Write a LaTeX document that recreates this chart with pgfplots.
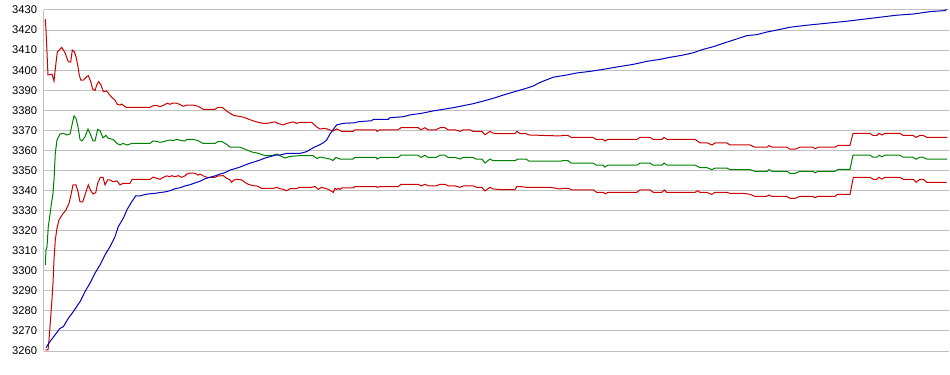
\documentclass[border=0pt]{standalone}
\usepackage{fontspec}
\setmainfont{Liberation Sans}
\usepackage{pgfplots}
\pgfplotsset{compat=1.18}
\definecolor{cred}{RGB}{204,0,0}
\definecolor{cgreen}{RGB}{0,128,0}
\definecolor{cblue}{RGB}{0,0,192}
\definecolor{cgrid}{RGB}{192,192,192}
\begin{document}
\begin{tikzpicture}
\useasboundingbox (-33pt,-18pt) rectangle (679.5pt,263.25pt);
\begin{axis}[scale only axis, width=678.75pt, height=255.75pt,
  xmin=44, xmax=949, ymin=3260, ymax=3430,
  axis x line=none, axis y line*=left,
  y axis line style={cgrid, line width=0.75pt},
  ytick={3260,3270,...,3430}, major tick length=0pt,
  ymajorgrids, grid style={cgrid, line width=0.75pt},
  yticklabel style={font=\fontsize{8.4}{10}\selectfont, /pgf/number format/1000 sep={}, /pgf/number format/assume math mode=true, anchor=east, inner sep=0pt, xshift=-5pt},
  clip=false,
  every axis plot/.style={line width=0.75pt, mark=none}]
% upper red
\addplot[cred] coordinates {
(45.3,3425.5)(46,3420)(48,3397.6)(52,3398)(54,3394.6)(56,3403.6)(57.3,3409)(61.7,3411.4)(65,3408.7)(68.3,3404.2)(70.7,3404)(72.3,3410)(74.3,3409.2)(76,3406.7)(77.7,3402.6)(79.3,3397.6)(80.7,3395.1)(83.3,3395)(86.7,3396.8)(88.3,3397.3)(90.7,3394.3)(92.7,3390.6)(95,3389.8)(96.7,3392.6)(98.7,3394.3)(101,3392.6)(103.3,3389.3)(106.7,3389.6)(108.3,3388.5)(111.7,3386.5)(115,3385.1)(117.3,3383)(120,3382.6)(121.7,3383.1)(126,3381.5)(150,3381.5)(153.3,3382.3)(157.3,3382.3)(160,3381.8)(164,3382.6)(167,3383.5)(170,3383)(173,3383.6)(177,3383.5)(181,3382.6)(183.3,3382)(187,3382.6)(193,3382.6)(198,3382)(203.3,3380.5)(215,3380.5)(218,3381.5)(222,3381.5)(226.7,3379.6)(233.3,3377.5)(243.3,3376.6)(250,3375.3)(256.7,3374.2)(263,3373.5)(267,3373.5)(275,3374.2)(278,3373.5)(283,3372.7)(287,3373.5)(293,3374.2)(296.7,3373.5)(300,3374)(311.7,3374)(316.7,3371.7)(320,3370.7)(325,3371)(330,3370.2)(333,3369.7)(336.7,3370.7)(341.7,3369.5)(353.3,3369.5)(355,3370.3)(376,3370.3)(377,3369.5)(380,3370.3)(398,3370.3)(401,3371.3)(418.3,3371.3)(421,3370.3)(425,3371.3)(428,3370.3)(436,3370.3)(440,3371.3)(445,3371.3)(448,3370.3)(455,3370.3)(460,3369.5)(463,3370.3)(470,3370.3)(473,3369.5)(482,3369.5)(485,3367.8)(490,3369.5)(493,3368.6)(498,3368.4)(515,3368.4)(517,3369.5)(520,3368.4)(526,3368.4)(529,3367.7)(560,3367.2)(563,3367.5)(568,3367.5)(571,3366.5)(593,3366.5)(596,3365.5)(603,3365.5)(605,3364.7)(608,3365.5)(637,3365.5)(640,3366.5)(650,3366.5)(653,3365.5)(662,3365.5)(664,3366.5)(667,3365.5)(695,3365.5)(700,3363.8)(707,3363.8)(712,3362.7)(715,3363.7)(727,3363.7)(730,3362.7)(750,3362.7)(755,3361.6)(767,3361.6)(769,3362.4)(772,3361.6)(787,3361.6)(790,3360.6)(795,3360.6)(800,3361.6)(813,3361.6)(815,3360.8)(818,3361.6)(835,3361.6)(838,3362.5)(850,3362.5)(853,3368.5)(870,3368.5)(873,3367.5)(877,3367.5)(879,3368.5)(882,3367.7)(885,3368.5)(900,3368.5)(903,3367.5)(913,3367.5)(916,3366.5)(920,3367.5)(923,3367.5)(927,3366.5)(947,3366.5)
};
% green middle
\addplot[cgreen] coordinates {
(45.3,3302.9)(46,3310.4)(47,3312)(48.3,3322)(49.7,3327)(51,3332)(53,3338.6)(54,3345.3)(55.3,3358.6)(57,3365.2)(60,3368.2)(63.3,3368.5)(66.7,3367.7)(70,3368.2)(72,3372.7)(74,3377.2)(76,3376)(78,3371.8)(80,3365.5)(82,3364.7)(85,3366.8)(88,3370.7)(90.7,3367.7)(93,3364.7)(95,3364.7)(97.7,3370.5)(100,3369.8)(103,3366.3)(106,3367.5)(108.3,3366)(113,3365.5)(117,3363.5)(120,3362.7)(123,3363.5)(127,3362.7)(132,3363.5)(150,3363.5)(153,3364.7)(157,3364.5)(160,3364)(163,3364.3)(167,3364.9)(170,3365.2)(173,3364.9)(177,3365.5)(181,3364.9)(185,3364.7)(187,3365.5)(193,3365.5)(198,3364.9)(203,3363.5)(215,3363.5)(218,3364.4)(222,3364.4)(227,3362.9)(230,3361.6)(240,3361.6)(245,3360.6)(252,3359.2)(258,3358.6)(263,3357.7)(266,3357.4)(272,3357.4)(277,3358.2)(280,3357.4)(285,3356.2)(290,3357)(300,3357.4)(313,3357.4)(317,3356)(320,3356.7)(325,3356.2)(330,3355.7)(333,3355)(336,3356.5)(340,3355.7)(353,3355.7)(355,3356.5)(376,3356.5)(377,3355.7)(380,3356.5)(398,3356.5)(401,3357.6)(418,3357.6)(421,3356.5)(425,3357.6)(428,3356.5)(436,3356.5)(440,3357.6)(445,3357.6)(448,3356.5)(455,3356.5)(460,3355.7)(463,3356.5)(473,3356.5)(476,3355.7)(482,3355.7)(485,3353.7)(490,3355.7)(493,3354.9)(500,3354.9)(515,3354.9)(518,3355.7)(526,3355.7)(529,3354.7)(560,3354.6)(563,3354.9)(568,3354.9)(571,3353.7)(593,3353.7)(596,3352.7)(603,3352.7)(605,3351.7)(608,3352.7)(637,3352.7)(640,3353.7)(650,3353.7)(653,3352.7)(662,3352.7)(664,3353.7)(667,3352.7)(695,3352.7)(700,3351.4)(707,3351.4)(712,3350.4)(715,3351.2)(727,3351.2)(730,3350.4)(750,3350.4)(755,3349.6)(767,3349.6)(769,3350.4)(772,3349.6)(787,3349.6)(790,3348.6)(795,3348.6)(800,3349.6)(813,3349.6)(815,3348.8)(818,3349.6)(835,3349.6)(838,3350.5)(850,3350.5)(853,3357.6)(870,3357.6)(873,3356.6)(877,3356.6)(879,3357.6)(882,3356.8)(885,3357.6)(900,3357.6)(903,3356.6)(913,3356.6)(916,3355.6)(920,3356.6)(923,3356.6)(927,3355.6)(947,3355.6)
};
% lower red
\addplot[cred] coordinates {
(45.3,3260.5)(48,3260.5)(49,3265.5)(50,3272.1)(51.7,3283.8)(53,3293.8)(54,3305.4)(55.3,3315.4)(57,3321.2)(59,3325.3)(62,3327.8)(66,3330.3)(69,3333.6)(71,3337.8)(73,3342.8)(76,3342.8)(78,3339.4)(80,3334.4)(82.7,3334.3)(85,3337.8)(88.3,3342.8)(90.7,3339.9)(93,3338.3)(95.7,3338.9)(97.7,3343.6)(100.3,3346.6)(103,3346.6)(105,3342.8)(107.7,3345.3)(110,3345.3)(113,3344.4)(117,3344.8)(120,3342.8)(123,3343.6)(130,3343.6)(132,3345.5)(150,3345.5)(153,3346.7)(160,3345.6)(163.3,3346.6)(166.7,3347.3)(170,3346.9)(171.7,3347.4)(175,3346.9)(178.3,3347.4)(181.7,3346.6)(185,3347.3)(186.7,3348.2)(190,3348.7)(193.3,3348.7)(196.7,3348.2)(198.3,3347.7)(200,3348.2)(203.3,3347.3)(206.7,3346.6)(215,3346.6)(218.3,3347.3)(223.3,3347.4)(226.7,3346.1)(230,3345.3)(231.7,3344.1)(234,3345.3)(236.7,3345.6)(241.7,3345.3)(245,3344)(248.3,3343.1)(253.3,3342.4)(256.7,3342.3)(261.7,3341.1)(273.3,3341.1)(276.7,3341.6)(279.3,3341)(283.3,3340.6)(286.7,3339.9)(290,3340.9)(296.7,3340.9)(299.3,3341.6)(311.7,3341.6)(315,3342)(318.3,3340.6)(321.7,3341.6)(325,3341.1)(328.3,3340.6)(333.3,3339.1)(335,3341.1)(336.7,3340.5)(338.3,3341.1)(340,3340.5)(341.7,3341.3)(353.3,3341.3)(355,3342)(376,3342)(377.3,3341.6)(380,3342)(398.3,3342)(401,3343.1)(418.3,3343.1)(421,3342.3)(425,3343.1)(428.3,3342.3)(436,3342.3)(440,3343.1)(445,3343.1)(448.3,3342.3)(455,3342.3)(460,3341.6)(463.3,3342.3)(473.3,3342.3)(476.7,3341.6)(481.7,3341.6)(485,3339.8)(490,3341.6)(492.7,3340.8)(500,3340.5)(515,3340.5)(516.7,3342)(520,3342)(526,3341.6)(550,3341.6)(560,3340.8)(563.3,3341.1)(568.3,3341.1)(571.7,3340.3)(593.3,3340.3)(596.7,3339.1)(603.3,3339.1)(605,3338.4)(608.3,3339.1)(636.7,3339.1)(640,3340.3)(650,3340.3)(653.3,3339.1)(661.7,3339.1)(664.3,3340.3)(666.7,3339.1)(695,3339.1)(697.7,3339.9)(700,3339.1)(706.7,3339.1)(711.7,3338.1)(715,3339.1)(726.7,3339.1)(730,3338.6)(743.3,3338.6)(750,3338.1)(755,3337.1)(766.7,3337.1)(769,3337.8)(771.7,3337.1)(786.7,3337.1)(790,3336.1)(795,3336.1)(800,3337.1)(812.7,3337.1)(815,3336.4)(817.7,3337.1)(835,3337.1)(837.3,3338.1)(850,3338.1)(853.3,3346.6)(870,3346.6)(873.3,3345.6)(876.7,3345.6)(879,3346.6)(881.7,3345.7)(885,3346.6)(900,3346.6)(903.3,3345.6)(913.3,3345.6)(916,3344.1)(920,3345.6)(923.3,3345.6)(926.7,3344.1)(946.7,3344.1)
};
% blue
\addplot[cblue] coordinates {
(46,3261.7)(50,3264.7)(55,3268)(60,3271.3)(63.3,3272.1)(68.3,3276.3)(73.3,3279.6)(80,3284.6)(85,3289.6)(90,3293.8)(95,3298.8)(100,3302.9)(105,3307.9)(110,3312)(115,3317)(118.3,3322)(123.3,3326.2)(127.3,3330.7)(131.7,3334.4)(135.7,3337.3)(140,3337.3)(143.3,3337.8)(148.3,3338.3)(155,3338.6)(160,3339)(165,3339.3)(170,3339.9)(175,3340.9)(180,3341.4)(185,3342.3)(190,3342.9)(195,3343.8)(200,3344.6)(205,3345.9)(210,3346.6)(215,3347.3)(220,3348.2)(225,3348.9)(230,3350.2)(235,3350.9)(240,3351.7)(245,3352.7)(250,3353.6)(255,3354.4)(260,3355.2)(265,3356.2)(270,3356.9)(275,3357.6)(280,3357.7)(286.7,3358.5)(300,3358.5)(306.7,3359.4)(310,3360.4)(315,3361.8)(319.3,3362.7)(323.3,3363.8)(326.7,3365.2)(330,3368.2)(333.3,3370.5)(336.7,3372.7)(343.3,3373.5)(355,3373.8)(358.3,3374.3)(371.7,3374.8)(373.3,3375.5)(388.3,3375.5)(390,3376.3)(403.3,3376.8)(410,3377.7)(421.7,3378.5)(433.3,3379.7)(443.3,3380.5)(453.3,3381.3)(463.3,3382.3)(473.3,3383.3)(483.3,3384.6)(493.3,3386)(503.3,3387.6)(513.3,3389.1)(523.3,3390.5)(533.3,3392.1)(540,3393.9)(553.3,3396.5)(566.7,3397.6)(576.7,3398.6)(590,3399.4)(603.3,3400.4)(618.3,3401.7)(633.3,3402.9)(646.7,3404.4)(660,3405.4)(670,3406.4)(681.7,3407.4)(693.3,3408.7)(703.3,3410.4)(713.3,3411.7)(723.3,3413.4)(733.3,3415)(746.7,3417.2)(756.7,3417.7)(766.7,3419)(776.7,3420)(790,3421.4)(806.7,3422.4)(826.7,3423.4)(846.7,3424.4)(863.3,3425.4)(880,3426.4)(896.7,3427.4)(913.3,3428)(930,3429.2)(945,3429.7)(946.7,3430.3)
};
\end{axis}
\end{tikzpicture}
\end{document}
